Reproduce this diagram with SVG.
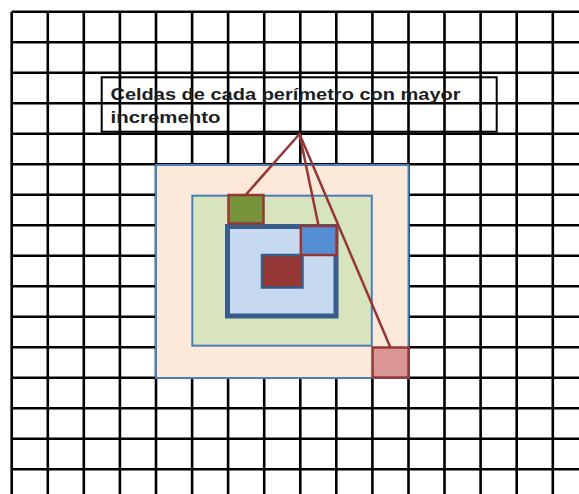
<svg xmlns="http://www.w3.org/2000/svg" width="579" height="494" viewBox="0 0 579 494">
<style>
.grid{fill:none;stroke:#000;stroke-width:2.6}
.peri{stroke:#4A7EBB;stroke-width:2}
.cell{stroke:#953735;stroke-width:2.5}
.conn{stroke:#953735;stroke-width:2.5;fill:none;stroke-linecap:round}
.lbl{font-family:"Liberation Sans",Arial,sans-serif;font-weight:bold;font-size:17px;fill:#1e1e1e}
</style>
<rect x="0" y="0" width="579" height="494" fill="#fff"/>
<g id="label-box">
<rect x="101.7" y="77.3" width="395" height="54.4" fill="#fff" stroke="#000" stroke-width="2"/>
</g>
<g id="grid">
<path class="grid" d="M11.7 11.7H579 M11.7 42.2H579 M11.7 72.7H579 M11.7 103.2H579 M11.7 133.7H579 M11.7 164.2H579 M11.7 194.7H579 M11.7 225.2H579 M11.7 255.7H579 M11.7 286.2H579 M11.7 316.7H579 M11.7 347.2H579 M11.7 377.7H579 M11.7 408.2H579 M11.7 438.7H579 M11.7 469.2H579
M11.7 11.7V494 M47.8 11.7V494 M83.8 11.7V494 M119.9 11.7V494 M156 11.7V494 M192.1 11.7V494 M228.1 11.7V494 M264.2 11.7V494 M300.3 11.7V494 M336.3 11.7V494 M372.4 11.7V494 M408.5 11.7V494 M444.5 11.7V494 M480.6 11.7V494 M516.7 11.7V494 M552.8 11.7V494"/>
</g>
<g id="perimeter-3">
<rect class="peri" x="156" y="165" width="252.5" height="213" fill="#FDE9D9"/>
</g>
<g id="perimeter-2">
<rect class="peri" x="192.3" y="195.7" width="179.5" height="150" fill="#D7E4BD"/>
</g>
<g id="perimeter-1">
<rect x="227.5" y="226.5" width="108.5" height="89.5" fill="#C6D9F1" stroke="#385D8A" stroke-width="5"/>
</g>
<g id="center-cell">
<rect x="262" y="255" width="40.5" height="32.5" fill="#953735" stroke="#385D8A" stroke-width="2.5"/>
</g>
<g id="cell-green">
<rect class="cell" x="228.5" y="195" width="35" height="28.5" fill="#77933C"/>
</g>
<g id="cell-blue">
<rect class="cell" x="300.8" y="226" width="35.8" height="29" fill="#558ED5"/>
</g>
<g id="cell-pink">
<rect class="cell" x="372.5" y="347.5" width="36" height="30" fill="#D99694"/>
</g>
<g id="label">
<text class="lbl" x="110.5" y="99.5" textLength="350" lengthAdjust="spacingAndGlyphs">Celdas de cada perímetro con mayor</text>
<text class="lbl" x="110.5" y="122.5" textLength="110" lengthAdjust="spacingAndGlyphs">incremento</text>
</g>
<g id="connectors">
<line class="conn" x1="299.5" y1="134" x2="246.5" y2="194"/>
<line class="conn" x1="299.5" y1="134" x2="318.3" y2="224.5"/>
<line class="conn" x1="299.5" y1="134" x2="390" y2="346.5"/>
</g>
</svg>
